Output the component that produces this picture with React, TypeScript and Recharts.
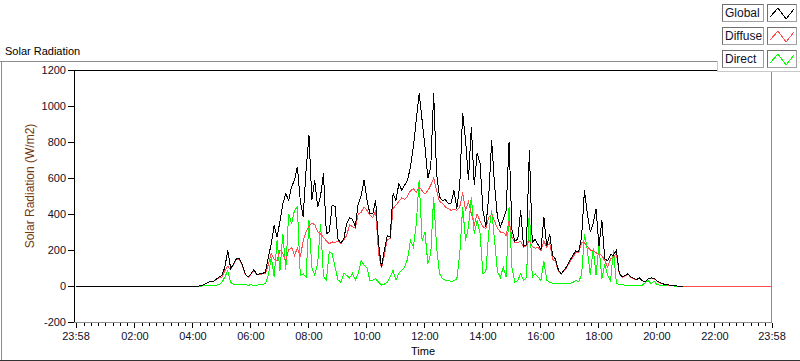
import React from "react";
import { LineChart, Line, XAxis, YAxis, Legend } from "recharts";

// W/m2, one reading every 6 minutes from 04:00 to 21:00 (one row per hour)
const globalWm2 = [
  0, 0, 0, 2, 10, 18, 27, 25, 38, 49,
  60, 105, 198, 96, 124, 152, 152, 120, 68, 50,
  68, 90, 64, 68, 70, 77, 161, 235, 337, 270,
  360, 458, 513, 476, 551, 588, 662, 476, 383, 643,
  838, 476, 588, 439, 500, 625, 290, 300, 450, 440,
  260, 240, 260, 346, 380, 370, 330, 458, 500, 590,
  480, 402, 400, 476, 235, 105, 200, 280, 272, 513,
  476, 569, 532, 560, 588, 662, 773, 922, 1070, 922,
  773, 600, 662, 1070, 625, 495, 476, 480, 460, 460,
  530, 430, 560, 960, 810, 590, 885, 560, 740, 680,
  420, 330, 500, 810, 560, 380, 330, 370, 420, 800,
  310, 250, 260, 420, 220, 230, 755, 240, 260, 230,
  200, 383, 220, 290, 170, 150, 90, 68, 90, 110,
  142, 170, 195, 190, 272, 532, 400, 300, 346, 430,
  220, 365, 150, 140, 175, 170, 200, 70, 50, 58,
  68, 50, 42, 36, 45, 29, 25, 42, 45, 42,
  29, 19, 12, 8, 6, 3, 1, 0, 0, 0,
  null,
];

const diffuseWm2 = [
  0, 0, 0, 2, 10, 18, 27, 25, 36, 45,
  50, 85, 110, 90, 120, 148, 148, 116, 65, 48,
  65, 86, 62, 65, 67, 72, 120, 180, 150, 140,
  200, 180, 140, 200, 215, 170, 210, 160, 250, 300,
  330, 350, 340, 300, 290, 270, 250, 235, 245, 240,
  250, 235, 255, 280, 340, 330, 320, 400, 410, 440,
  420, 395, 380, 420, 180, 100, 170, 260, 262, 430,
  450, 470, 490, 480, 500, 530, 540, 520, 550, 530,
  510, 530, 560, 600, 530, 470, 460, 440, 430, 420,
  425, 420, 440, 520, 420, 470, 400, 340, 400, 360,
  330, 320, 380, 400, 360, 320, 300, 300, 280, 365,
  270, 240, 240, 250, 215, 225, 250, 220, 210, 215,
  195, 250, 215, 240, 150, 135, 85, 66, 85, 105,
  135, 160, 185, 185, 240, 240, 220, 200, 200, 185,
  175, 170, 140, 105, 150, 160, 180, 68, 48, 56,
  66, 48, 40, 34, 43, 28, 24, 40, 42, 40,
  28, 18, 11, 7, 5, 3, 1, 0, 0, 0,
  0,
];

const directWm2 = [
  0, 0, 0, 0, 2, 3, 4, 4, 5, 8,
  20, 50, 85, 20, 8, 6, 6, 7, 6, 5,
  6, 5, 5, 6, 6, 15, 60, 161, 49, 254,
  86, 291, 90, 402, 346, 420, 439, 60, 68, 50,
  365, 100, 60, 124, 346, 52, 33, 190, 180, 105,
  35, 20, 70, 60, 45, 70, 33, 70, 142, 115,
  100, 33, 33, 40, 21, 5, 10, 21, 52, 86,
  33, 70, 86, 105, 150, 253, 216, 346, 588, 253,
  300, 123, 179, 495, 216, 70, 40, 33, 33, 25,
  30, 40, 179, 439, 253, 328, 495, 290, 365, 291,
  68, 80, 300, 420, 253, 80, 49, 105, 50, 439,
  100, 21, 31, 68, 31, 49, 420, 49, 68, 49,
  31, 140, 31, 21, 15, 12, 12, 12, 12, 12,
  15, 20, 30, 25, 60, 290, 200, 60, 210, 60,
  225, 40, 124, 60, 30, 200, 15, 8, 6, 5,
  5, 4, 4, 4, 5, 5, 20, 30, 12, 28,
  8, 4, 3, 2, 2, 1, 0, 0, 0, 0,
  null,
];

const firstSample = 240; // 04:00, minutes after midnight
const sampleStep = 6;
const dayStart = -2; // 23:58 the evening before
const dayEnd = 1438; // 23:58

const majorMinutes = [-2, 120, 240, 360, 480, 600, 720, 840, 960, 1080, 1200, 1320, 1438];
const majorLabels = ["23:58", "02:00", "04:00", "06:00", "08:00", "10:00", "12:00", "14:00", "16:00", "18:00", "20:00", "22:00", "23:58"];
const yTicks = [-200, 0, 200, 400, 600, 800, 1000, 1200];

const RED = "#ff4d4d";
const GREEN = "#00ff00";

const legendItems = [
  { name: "Global", color: "#000000" },
  { name: "Diffuse", color: RED },
  { name: "Direct", color: GREEN },
];

const data = [
  { t: dayStart, global: 0, diffuse: 0, direct: 0 },
  ...globalWm2.map((g, i) => ({
    t: firstSample + i * sampleStep,
    global: g,
    diffuse: diffuseWm2[i],
    direct: directWm2[i],
  })),
  { t: dayEnd, global: null, diffuse: 0, direct: null },
];

const xTicks: number[] = [dayStart];
for (let m = 0; m < dayEnd; m += 15) xTicks.push(m);
xTicks.push(dayEnd);

const textColor = "#10102a";

function TimeTick({ x, y, payload }: any) {
  const i = majorMinutes.indexOf(payload.value);
  return (
    <g>
      <line x1={x} x2={x} y1={y + 1} y2={y + (i >= 0 ? 6 : 4)} stroke="#000" shapeRendering="crispEdges" />
      {i >= 0 && (
        <text x={x} y={y + 18} textAnchor="middle" fontSize={11} fill={textColor}>
          {majorLabels[i]}
        </text>
      )}
    </g>
  );
}

function ValueTick({ x, y, payload }: any) {
  return (
    <g>
      <line x1={x - 8} x2={x - 2} y1={y} y2={y} stroke="#000" shapeRendering="crispEdges" />
      <text x={x - 10} y={y + 4} textAnchor="end" fontSize={11} fill={textColor}>
        {payload.value}
      </text>
    </g>
  );
}

function PlotLegend() {
  const box = {
    position: "absolute" as const,
    height: 18,
    boxSizing: "border-box" as const,
    background: "#fff",
    border: "1px solid #a0a0a0",
    borderTopColor: "#707070",
    borderLeftColor: "#707070",
  };
  return (
    <div style={{ position: "relative", width: 83, height: 72, background: "#fff" }}>
      <div style={{ position: "absolute", left: 0, top: 61, width: 1, height: 11, background: "#c8c8c8" }} />
      <div style={{ position: "absolute", left: 0, top: 71, width: 83, height: 1, background: "#c8c8c8" }} />
      {legendItems.map((item, i) => (
        <React.Fragment key={item.name}>
          <div style={{ ...box, left: 5, top: 4 + i * 23, width: 42, fontSize: 12, lineHeight: "16px", paddingLeft: 2, color: textColor }}>
            {item.name}
          </div>
          <div style={{ ...box, left: 50, top: 4 + i * 23, width: 30 }}>
            <svg width={28} height={16} style={{ display: "block" }}>
              <polyline points="2,12 10,3 18,14 26,4" fill="none" stroke={item.color} strokeWidth={1} shapeRendering="crispEdges" />
            </svg>
          </div>
        </React.Fragment>
      ))}
    </div>
  );
}

export default function App() {
  return (
    <div
      style={{
        position: "absolute",
        left: 0,
        top: 0,
        width: 800,
        height: 361,
        background: "#fff",
        overflow: "hidden",
        fontFamily: "'Liberation Sans', Arial, sans-serif",
      }}
    >
      <style>{`.recharts-line-curve{shape-rendering:crispEdges}`}</style>
      <svg width={800} height={361} style={{ position: "absolute", left: 0, top: 0 }}>
        <g shapeRendering="crispEdges">
          <line x1={0} x2={717} y1={61.5} y2={61.5} stroke="#8c8c8c" />
          <line x1={1.5} x2={1.5} y1={61} y2={361} stroke="#8c8c8c" />
          <line x1={0} x2={800} y1={360.5} y2={360.5} stroke="#333" />
          <line x1={74} x2={772} y1={70.5} y2={70.5} stroke="#000" />
          <line x1={74.5} x2={74.5} y1={70} y2={322} stroke="#000" />
          <line x1={771.5} x2={771.5} y1={70} y2={323} stroke="#8c8c8c" />
          <line x1={74} x2={772} y1={322.5} y2={322.5} stroke="#8c8c8c" />
        </g>
        <text x={5} y={55} fontSize={11} fill="#000">Solar Radiation</text>
        <text x={34} y={186} fontSize={12} fill="#74380c" textAnchor="middle" transform="rotate(-90, 34, 186)">
          Solar Radiation (W/m2)
        </text>
        <text x={423} y={355} fontSize={11} fill="#000" textAnchor="middle">Time</text>
      </svg>
      <div style={{ position: "absolute", left: 0, top: 0 }}>
        <LineChart width={800} height={361} data={data} margin={{ top: 70, right: 28, bottom: 0, left: 0 }}>
          <XAxis
            dataKey="t"
            type="number"
            domain={[dayStart, dayEnd]}
            ticks={xTicks}
            interval={0}
            height={39}
            axisLine={false}
            tickLine={false}
            tickSize={0}
            tickMargin={0}
            tick={<TimeTick />}
            allowDataOverflow
          />
          <YAxis
            type="number"
            domain={[-200, 1200]}
            ticks={yTicks}
            interval={0}
            width={76}
            axisLine={false}
            tickLine={false}
            tickSize={0}
            tickMargin={0}
            tick={<ValueTick />}
            allowDataOverflow
          />
          <Legend
            layout="horizontal"
            verticalAlign="middle"
            align="center"
            content={() => <PlotLegend />}
            wrapperStyle={{ position: "absolute", left: 717, top: 0, width: 83, height: 72 }}
          />
          <Line type="linear" dataKey="direct" name="Direct" stroke={GREEN} strokeWidth={1} dot={false} activeDot={false} isAnimationActive={false} />
          <Line type="linear" dataKey="diffuse" name="Diffuse" stroke={RED} strokeWidth={1} dot={false} activeDot={false} isAnimationActive={false} />
          <Line type="linear" dataKey="global" name="Global" stroke="#000" strokeWidth={1} dot={false} activeDot={false} isAnimationActive={false} />
        </LineChart>
      </div>
    </div>
  );
}
